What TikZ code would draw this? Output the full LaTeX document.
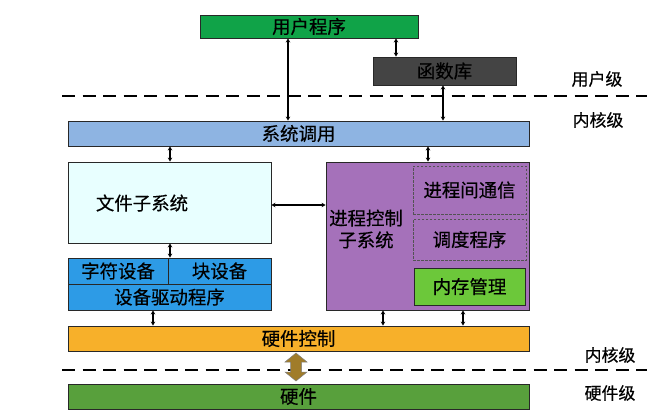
\documentclass[tikz,border=0pt]{standalone}
\usepackage{fontspec}
\newfontfamily\cjk[FakeBold=0.4]{Noto Sans CJK SC}
\usetikzlibrary{arrows.meta}
\definecolor{userg}{RGB}{16,163,72}
\definecolor{libgray}{RGB}{68,68,68}
\definecolor{sysblue}{RGB}{142,180,226}
\definecolor{fscyan}{RGB}{232,255,255}
\definecolor{procpur}{RGB}{165,113,186}
\definecolor{memgreen}{RGB}{108,200,58}
\definecolor{devblue}{RGB}{45,155,230}
\definecolor{hwcorange}{RGB}{247,176,42}
\definecolor{hwgreen}{RGB}{88,160,60}
\definecolor{brownarr}{RGB}{160,124,42}
\definecolor{edge}{RGB}{40,40,40}
\tikzset{
  box/.style={draw=edge, line width=0.9bp, rectangle, inner sep=0pt, anchor=center,
    font=\cjk\fontsize{18.5}{22}\selectfont},
  dbox/.style={draw=edge!80, line width=0.7bp, dash pattern=on 2.5bp off 1.5bp, rectangle, inner sep=0pt,
    font=\cjk\fontsize{18.5}{22}\selectfont},
  txt/.style={inner sep=0pt, font=\cjk\fontsize{18.5}{22}\selectfont},
  lvl/.style={inner sep=0pt, font=\cjk\fontsize{17}{20}\selectfont},
  dar/.style={line width=1.1bp, {Stealth[length=4bp,width=4.5bp]}-{Stealth[length=4bp,width=4.5bp]}},
  dashline/.style={line width=2.8bp, dash pattern=on 13bp off 7.5bp},
}
\begin{document}
\begin{tikzpicture}[x=1bp,y=-1bp]
\useasboundingbox (0,0) rectangle (647,414);
% boxes
\node[box, fill=userg, minimum width=218bp, minimum height=23bp] (user) at (309,26.5) {用户程序};
\node[box, fill=libgray, minimum width=143bp, minimum height=28bp] (lib) at (444.5,71) {函数库};
\node[box, fill=sysblue, minimum width=461bp, minimum height=25bp] (sys) at (298.5,133.5) {系统调用};
\node[box, fill=fscyan, minimum width=203bp, minimum height=81bp] (fs) at (169.5,202.5) {};
\node[txt] (fslabel) at (142,203) {文件子系统};
\node[box, fill=procpur, minimum width=203bp, minimum height=148bp] (proc) at (427.5,236) {};
\node[txt, align=center] (proclabel) at (366,229) {进程控制\\子系统};
\node[dbox, minimum width=113bp, minimum height=48bp] (ipc) at (469.5,190) {进程间通信};
\node[dbox, minimum width=113bp, minimum height=41bp] (sched) at (469.5,239.5) {调度程序};
\node[box, fill=memgreen, minimum width=111bp, minimum height=37bp] (mem) at (469.5,286.5) {内存管理};
\node[box, fill=devblue, minimum width=100bp, minimum height=26bp] (chr) at (118,271) {字符设备};
\node[box, fill=devblue, minimum width=103bp, minimum height=26bp] (blk) at (219.5,271) {块设备};
\node[box, fill=devblue, minimum width=203bp, minimum height=26bp] (drv) at (169.5,297) {设备驱动程序};
\node[box, fill=hwcorange, minimum width=461bp, minimum height=25bp] (hwc) at (298.5,338.5) {硬件控制};
\node[box, fill=hwgreen, minimum width=461bp, minimum height=25bp] (hw) at (298.5,396.5) {硬件};
% level labels
\node[lvl] (l1) at (597,79) {用户级};
\node[lvl] (l2) at (598,120) {内核级};
\node[lvl] (l3) at (610,355) {内核级};
\node[lvl] (l4) at (610,393) {硬件级};
% dashed separators
\draw[dashline] (62,96) -- (647,96);
\draw[dashline] (62,370) -- (647,370);
% column coordinates
\coordinate (c1) at (288,0);
\coordinate (c2) at (396,0);
\coordinate (c3) at (443,0);
\coordinate (c4) at (170,0);
\coordinate (c5) at (428,0);
\coordinate (c6) at (153,0);
\coordinate (c7) at (383,0);
\coordinate (c8) at (463,0);
\coordinate (r1) at (0,205);
% connectors
\draw[dar] (user.south -| c1) -- (sys.north -| c1);
\draw[dar] (user.south -| c2) -- (lib.north -| c2);
\draw[dar] (lib.south -| c3) -- (sys.north -| c3);
\draw[dar] (sys.south -| c4) -- (fs.north -| c4);
\draw[dar] (sys.south -| c5) -- (proc.north -| c5);
\draw[dar] (fs.east |- r1) -- (proc.west |- r1);
\draw[dar] (fs.south -| c4) -- (chr.north -| c4);
\draw[dar] (drv.south -| c6) -- (hwc.north -| c6);
\draw[dar] (proc.south -| c7) -- (hwc.north -| c7);
\draw[dar] (proc.south -| c8) -- (hwc.north -| c8);
% big double arrow between hardware control and hardware
\fill[brownarr, draw=gray, line width=0.5bp]
  (296,353) -- (307,362) -- (301.5,362) -- (301.5,372) -- (307,372) -- (296,381)
  -- (285,372) -- (290.5,372) -- (290.5,362) -- (285,362) -- cycle;
\end{tikzpicture}
\end{document}
